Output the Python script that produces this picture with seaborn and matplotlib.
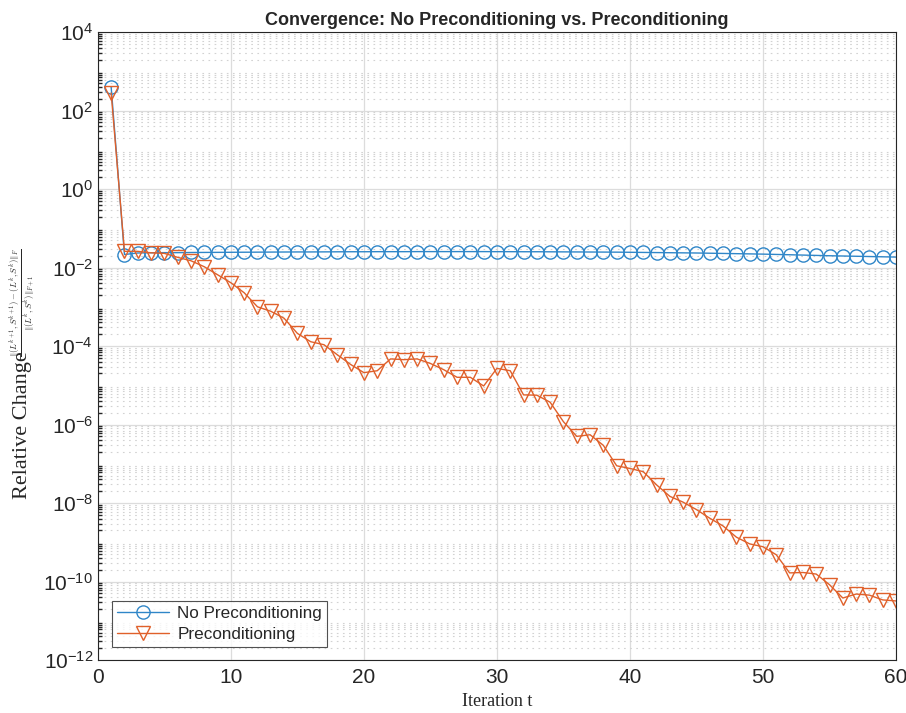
import numpy as np
import pandas as pd
import matplotlib
matplotlib.use("Agg")
import matplotlib.pyplot as plt
import seaborn as sns
from matplotlib.ticker import LogLocator, NullFormatter

iterations = list(range(1, 61))

no_precond = [400, 0.0215, 0.0235, 0.0238, 0.0240, 0.0240, 0.0242, 0.0243, 0.0244, 0.0245,
              0.0246, 0.0247, 0.0248, 0.0249, 0.0250, 0.0250, 0.0251, 0.0252, 0.0253, 0.0253,
              0.0254, 0.0254, 0.0254, 0.0255, 0.0255, 0.0255, 0.0255, 0.0255, 0.0255, 0.0254,
              0.0254, 0.0253, 0.0253, 0.0252, 0.0251, 0.0250, 0.0249, 0.0248, 0.0247, 0.0245,
              0.0243, 0.0241, 0.0239, 0.0237, 0.0235, 0.0232, 0.0229, 0.0226, 0.0223, 0.0220,
              0.0216, 0.0212, 0.0208, 0.0204, 0.0200, 0.0197, 0.0194, 0.0191, 0.0188, 0.0185]

precond = [280, 0.0259, 0.0259, 0.0238, 0.0230, 0.0182, 0.0149, 0.0105, 0.00656, 0.0041,
           0.00228, 0.0010, 7.7e-4, 5.1e-4, 2.1e-4, 1.29e-4, 1.08e-4, 6.0e-5, 3.4e-5, 2.1e-5,
           2.35e-5, 4.7e-5, 4.5e-5, 4.7e-5, 3.6e-5, 2.5e-5, 1.6e-5, 1.6e-5, 9.6e-6, 2.7e-5,
           2.35e-5, 5.7e-6, 5.6e-6, 3.7e-6, 1.18e-6, 5.0e-7, 5.5e-7, 2.95e-7, 8.9e-8, 7.6e-8,
           6.3e-8, 2.9e-8, 1.48e-8, 1.05e-8, 6.8e-9, 4.1e-9, 2.6e-9, 1.35e-9, 9.1e-10, 7.7e-10,
           4.8e-10, 1.66e-10, 1.7e-10, 1.55e-10, 8.3e-11, 3.8e-11, 4.8e-11, 4.5e-11, 3.4e-11, 3.2e-11]

series_names = ["No Preconditioning", "Preconditioning"]
colors = ["#2f86c8", "#e0602a"]
markers = ["o", "v"]

sns.set_theme(style="white")
plt.rcParams["font.family"] = ["Liberation Sans", "DejaVu Sans"]
plt.rcParams["mathtext.fontset"] = "cm"

df = pd.DataFrame({
    "Iteration": iterations * 2,
    "Value": no_precond + precond,
    "Series": [series_names[0]] * 60 + [series_names[1]] * 60,
})

fig = plt.figure(figsize=(9.06, 7.13), dpi=100)
ax = fig.add_axes([0.108, 0.0743, 0.881, 0.8807])

for name, c, m in zip(series_names, colors, markers):
    sub = df[df["Series"] == name]
    sns.lineplot(data=sub, x="Iteration", y="Value", ax=ax, color=c, marker=m,
                 markersize=9.5, markerfacecolor="none", markeredgecolor=c,
                 markeredgewidth=1.0, linewidth=1.0, label=name)

ax.set_yscale("log")
ax.set_xlim(0, 60)
ax.set_ylim(1e-12, 1e4)
ax.set_xticks([0, 10, 20, 30, 40, 50, 60])
ax.set_yticks([10.0**k for k in range(-12, 5, 2)])
ax.yaxis.set_minor_locator(LogLocator(base=10, subs=np.arange(2, 10), numticks=100))
ax.yaxis.set_minor_formatter(NullFormatter())

ax.grid(which="major", color="#dcdcdc", linewidth=0.9, linestyle="-")
ax.grid(which="minor", axis="y", color="#d2d2d2", linewidth=0.8, linestyle=(0, (1.5, 4)))
ax.set_axisbelow(True)

for s in ax.spines.values():
    s.set_color("#262626")
    s.set_linewidth(0.8)
ax.tick_params(axis="both", which="major", direction="in", length=5, labelsize=15,
               colors="#262626", top=False, right=False)
ax.tick_params(axis="x", which="major", pad=6)
ax.tick_params(axis="y", which="minor", direction="in", length=3, left=True)
for lbl in ax.get_xticklabels() + ax.get_yticklabels():
    lbl.set_color("#262626")

ax.set_title("Convergence: No Preconditioning vs. Preconditioning", fontsize=13,
             fontweight="bold", pad=5)
ax.set_xlabel("Iteration t", fontsize=13)
ax.xaxis.label.set_fontfamily(["Liberation Serif", "DejaVu Serif"])
ax.xaxis.labelpad = 4

# y label: text part and fraction part
ax.set_ylabel("Relative Change", fontsize=16)
ax.yaxis.label.set_fontfamily(["Liberation Serif", "DejaVu Serif"])
ax.yaxis.set_label_coords(-0.094, 0.374)
ax.yaxis.label.set_rotation_mode("default")
ax.yaxis.label.set_va("center")
ax.yaxis.label.set_ha("center")
ax.text(-0.0955, 0.570,
        r"$\frac{\|(L^{k+1},S^{k+1})-(L^k,S^k)\|_F}{\|(L^k,S^k)\|_{F+1}}$",
        transform=ax.transAxes, rotation=90, ha="center", va="center",
        fontsize=9, color="#262626")

leg = ax.legend(loc="lower left", fontsize=12.3, frameon=True, fancybox=False,
                edgecolor="#262626", borderpad=0.3, handlelength=3.0, labelspacing=0.35,
                handletextpad=0.5, borderaxespad=0.0, bbox_to_anchor=(0.018, 0.021))
leg.get_frame().set_linewidth(0.8)

fig.savefig("out.png", dpi=100)
